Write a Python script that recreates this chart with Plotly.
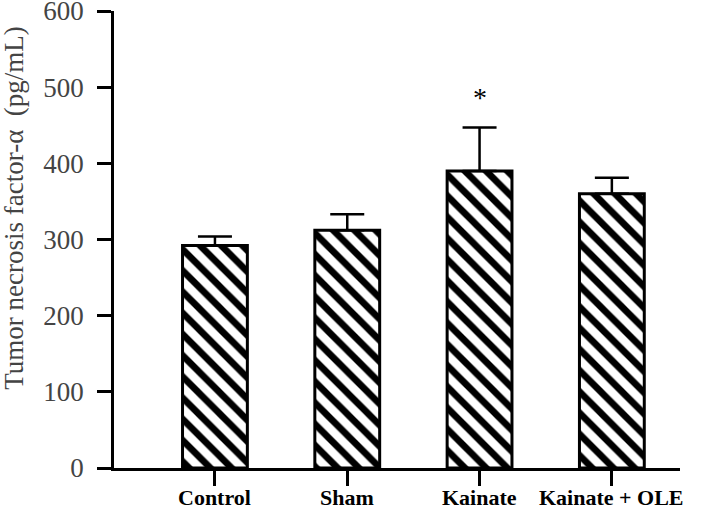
import plotly.graph_objects as go

categories = ["Control", "Sham", "Kainate", "Kainate + OLE"]
tnf_mean = [292, 312, 390, 360]
tnf_sem = [12, 21, 57, 21]
y_ticks = [0, 100, 200, 300, 400, 500, 600]
star_labels = ["", "", "*", ""]

serif = "Liberation Serif, Times New Roman, serif"

fig = go.Figure()
fig.add_trace(go.Bar(
    x=categories,
    y=tnf_mean,
    width=0.49,
    marker=dict(
        color="white",
        line=dict(color="black", width=3),
        pattern=dict(shape="\\", fgcolor="black", bgcolor="white", fgopacity=1,
                     size=15, solidity=0.45),
    ),
    error_y=dict(type="data", array=tnf_sem, arrayminus=[0] * len(tnf_sem), symmetric=False,
                 color="black", thickness=2.5, width=17),
    showlegend=False,
))

for c, m, e, s in zip(categories, tnf_mean, tnf_sem, star_labels):
    if s:
        fig.add_annotation(x=c, y=m + e + 40, text=s, showarrow=False,
                           font=dict(family=serif, size=28, color="black"),
                           xanchor="center", yanchor="middle")

# category labels under the ticks
for c in categories:
    fig.add_annotation(x=c, xref="x", yref="paper", y=-0.064, text="<b>%s</b>" % c,
                       showarrow=False, font=dict(family=serif, size=22, color="black"),
                       xanchor="center", yanchor="middle")

fig.add_annotation(
    xref="paper", yref="paper", x=-0.177, y=0.569,
    text="Tumor necrosis factor-α  (pg/mL)", textangle=-90, showarrow=False,
    font=dict(family=serif, size=27, color="#444444"),
    xanchor="center", yanchor="middle",
)

fig.update_layout(
    width=708, height=509,
    margin=dict(l=114, r=28, t=11, b=41, autoexpand=False),
    paper_bgcolor="white", plot_bgcolor="white",
    bargap=0.5,
)
fig.update_xaxes(
    range=[-0.763, 3.515],
    showline=True, linecolor="black", linewidth=2.5,
    ticks="outside", ticklen=15, tickwidth=2.5, tickcolor="black",
    showticklabels=False,
    showgrid=False, zeroline=False, automargin=False,
)
fig.update_yaxes(
    range=[0, 600.01], tickvals=y_ticks,
    showline=True, linecolor="black", linewidth=2.5,
    ticks="outside", ticklen=14, tickwidth=2.5, tickcolor="black",
    tickfont=dict(family=serif, size=27, color="#444444"),
    ticklabelstandoff=8, ticklabeloverflow="allow",
    showgrid=False, zeroline=False, automargin=False,
)

# remove the browser's default page margin so the figure fills the window exactly
fig.write_html("out.html", config={"displayModeBar": False},
               post_script="document.body.style.margin='0';")
